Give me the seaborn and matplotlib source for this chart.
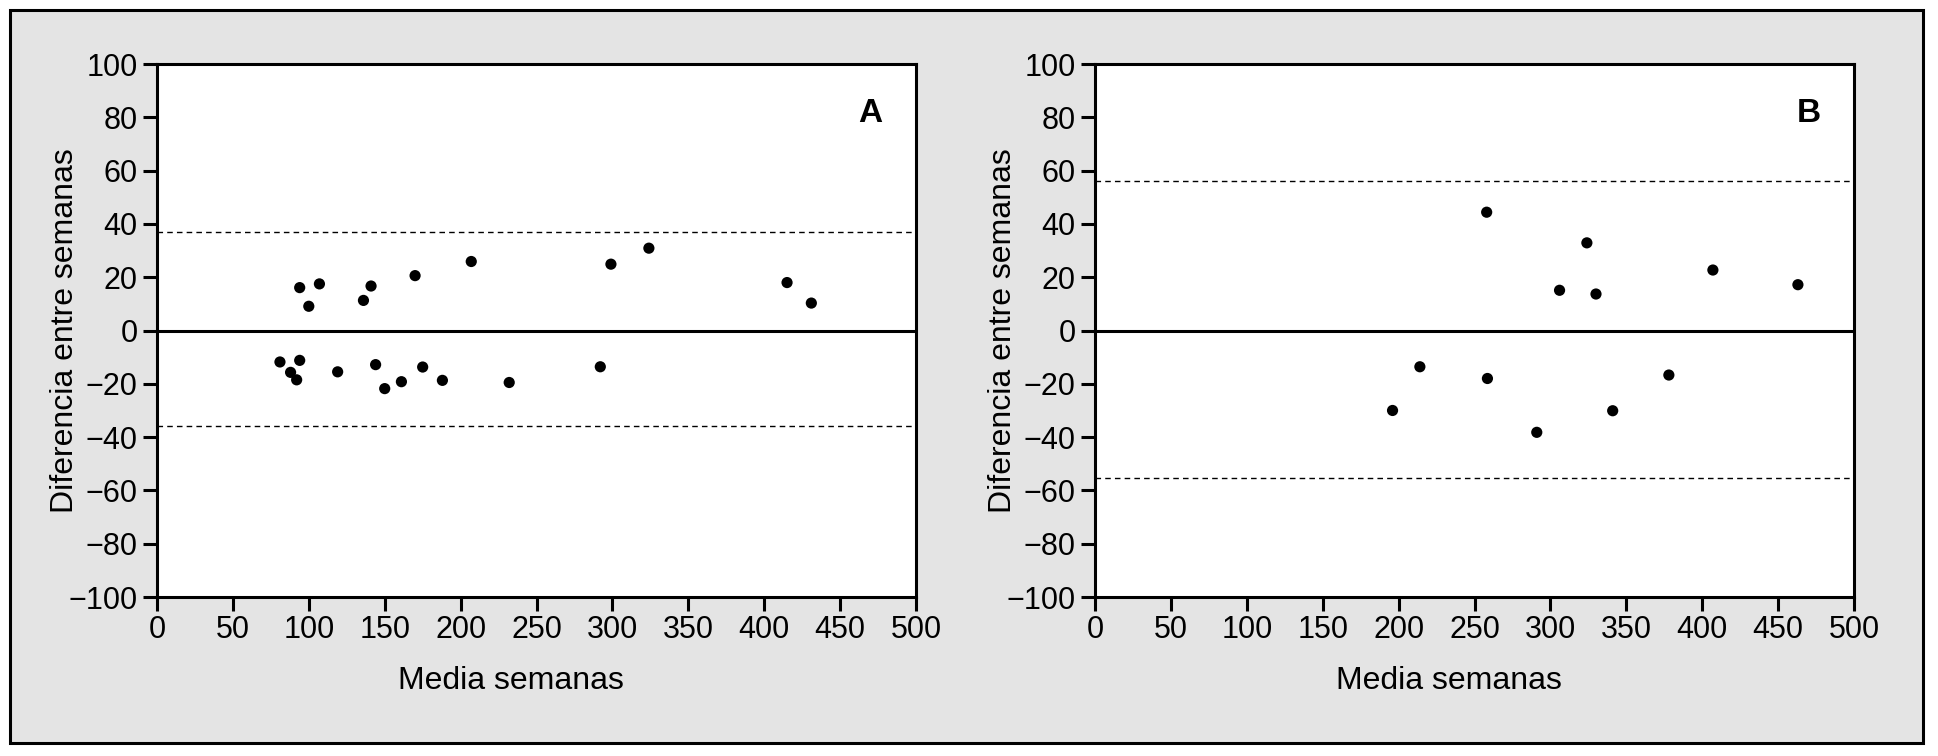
import numpy as np
import seaborn as sns
import matplotlib.pyplot as plt
from matplotlib.patches import Rectangle

# Panel A
media_a = [94, 107, 100, 136, 141, 170, 207, 299, 324, 415, 431,
           81, 94, 88, 92, 119, 144, 150, 161, 175, 188, 232, 292]
dif_a = [16.1, 17.5, 9.1, 11.3, 16.7, 20.6, 25.9, 24.9, 30.9, 18.0, 10.3,
         -11.8, -11.2, -15.7, -18.5, -15.5, -12.8, -21.8, -19.2, -13.7,
         -18.7, -19.5, -13.6]
limites_a = [36.8, -35.8]

# Panel B
media_b = [258, 324, 306, 330, 407, 463, 214, 196, 258.5, 291, 341, 378]
dif_b = [44.4, 32.9, 15.1, 13.7, 22.7, 17.2, -13.6, -30.0, -18.0, -38.2,
         -30.1, -16.7]
limites_b = [56.0, -55.5]

x_ticks = list(range(0, 501, 50))
y_ticks = list(range(-100, 101, 20))

sns.set_style("ticks")
plt.rcParams['font.family'] = ['Liberation Sans', 'DejaVu Sans']
plt.rcParams['text.color'] = "black"
plt.rcParams['axes.labelcolor'] = "black"

fig = plt.figure(figsize=(19.38, 7.56), dpi=100, facecolor="white")
# marco gris con borde negro alrededor de toda la figura
fig.patches.append(Rectangle((10 / 1938, 1 - 743 / 756), 1913 / 1938,
                             733 / 756, transform=fig.transFigure,
                             facecolor="#e4e4e4", edgecolor="black",
                             linewidth=2.2, zorder=-10))

ax_a = fig.add_axes([0.081, 0.2103, 0.3917, 0.705])
ax_b = fig.add_axes([0.565, 0.2103, 0.3917, 0.705])


def dibujar_panel(ax, media, dif, limites, letra):
    ax.set_facecolor("white")
    ax.axhline(0, color="black", linewidth=2.2, zorder=2)
    for lim in limites:
        ax.axhline(lim, color="black", linewidth=1.0,
                   linestyle=(0, (4, 3)), zorder=2)
    sns.scatterplot(x=media, y=dif, ax=ax, color="black", s=65,
                    edgecolor="none", zorder=3)
    ax.set_xlim(0, 500)
    ax.set_ylim(-100, 100)
    ax.set_xticks(x_ticks)
    ax.set_yticks(y_ticks)
    ax.tick_params(axis="both", direction="out", length=10, width=2.2,
                   labelsize=22, color="black", labelcolor="black")
    ax.tick_params(axis="x", pad=3)
    ax.tick_params(axis="y", pad=4)
    for sp in ax.spines.values():
        sp.set_linewidth(2.2)
        sp.set_color("black")
        sp.set_visible(True)
    ax.set_xlabel("Media semanas", fontsize=23, color="black")
    ax.xaxis.set_label_coords(0.466, -0.13)
    ax.set_ylabel("Diferencia entre semanas", fontsize=23, color="black")
    ax.yaxis.set_label_coords(-0.101, 0.5)
    ax.text(470, 81.5, letra, fontsize=24, fontweight="bold",
            color="black", ha="center", va="center")


dibujar_panel(ax_a, media_a, dif_a, limites_a, "A")
dibujar_panel(ax_b, media_b, dif_b, limites_b, "B")

fig.savefig("out.png", dpi=100, facecolor="white")
